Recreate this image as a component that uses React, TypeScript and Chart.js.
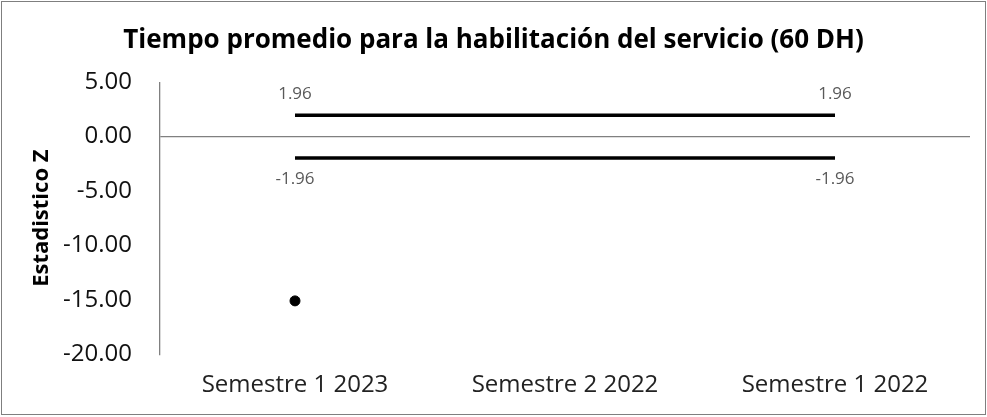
import React, { useEffect, useRef } from "react";
import { Chart, registerables } from "chart.js";

Chart.register(...registerables);

const categories = ["Semestre 1 2023", "Semestre 2 2022", "Semestre 1 2022"];
const zValues = [-15.1, null, null];
const upperLimit = [1.96, 1.96, 1.96];
const lowerLimit = [-1.96, -1.96, -1.96];
const yTicks = { min: -20, max: 5, step: 5 };
const titleText = "Tiempo promedio para la habilitación del servicio (60 DH)";
const yTitle = "Estadistico Z";

const FONT = "'Open Sans', 'Noto Sans', sans-serif";

const endLabels = {
  id: "endLabels",
  afterDatasetsDraw(chart: any) {
    const ctx = chart.ctx;
    ctx.save();
    ctx.font = `17px ${FONT}`;
    ctx.fillStyle = "#595959";
    ctx.textAlign = "center";
    ctx.textBaseline = "middle";
    [1, 2].forEach((di) => {
      const meta = chart.getDatasetMeta(di);
      const data = chart.data.datasets[di].data as number[];
      [0, data.length - 1].forEach((i) => {
        const el = meta.data[i];
        const above = data[i] > 0;
        ctx.fillText(data[i].toFixed(2), el.x, above ? el.y - 21 : el.y + 21);
      });
    });
    ctx.restore();
  },
};

const yAxisTitle = {
  id: "yAxisTitle",
  afterDraw(chart: any) {
    const ctx = chart.ctx;
    const area = chart.chartArea;
    ctx.save();
    ctx.translate(42, (area.top + area.bottom) / 2);
    ctx.rotate(-Math.PI / 2);
    ctx.font = `bold 22px ${FONT}`;
    ctx.fillStyle = "#000";
    ctx.textAlign = "center";
    ctx.textBaseline = "middle";
    ctx.fillText(yTitle, 0, 0);
    ctx.restore();
  },
};

export default function App() {
  const ref = useRef<HTMLCanvasElement>(null);
  useEffect(() => {
    const chart = new Chart(ref.current!, {
      type: "line",
      data: {
        labels: categories,
        datasets: [
          {
            data: zValues,
            showLine: false,
            pointRadius: 5,
            pointBackgroundColor: "#000",
            pointBorderColor: "#000",
            borderColor: "#000",
          },
          {
            data: upperLimit,
            borderColor: "#000",
            borderWidth: 3.5,
            pointRadius: 0,
          },
          {
            data: lowerLimit,
            borderColor: "#000",
            borderWidth: 3.5,
            pointRadius: 0,
          },
        ],
      },
      options: {
        animation: false,
        responsive: false,
        layout: { padding: { left: 17, right: 17, top: 17, bottom: 0 } },
        plugins: {
          legend: { display: false },
          tooltip: { enabled: false },
          title: {
            display: true,
            text: titleText,
            color: "#000",
            font: { family: FONT, size: 26, weight: "bold" },
            padding: { top: 8, bottom: 26 },
          },
        },
        scales: {
          x: {
            offset: true,
            grid: { display: false, drawTicks: false },
            border: { display: false },
            ticks: {
              color: "#222",
              font: { family: FONT, size: 24 },
              padding: 17,
            },
          },
          y: {
            min: yTicks.min,
            max: yTicks.max,
            afterFit: (s: any) => {
              s.width = 143;
            },
            ticks: {
              stepSize: yTicks.step,
              color: "#111",
              font: { family: FONT, size: 24 },
              padding: 28,
              callback: (v: any) => Number(v).toFixed(2),
            },
            grid: {
              drawTicks: false,
              color: (c: any) => (c.tick && c.tick.value === 0 ? "#808080" : "rgba(0,0,0,0)"),
              lineWidth: 1.3,
            },
            border: { display: true, color: "#808080", width: 1.3 },
            title: { display: false, text: yTitle },
          },
        },
      },
      plugins: [endLabels, yAxisTitle],
    });
    return () => chart.destroy();
  }, []);
  return (
    <div
      style={{
        position: "fixed",
        left: 0,
        top: 0,
        width: 987,
        height: 417,
        background: "#fff",
      }}
    >
      <div
        style={{
          position: "absolute",
          left: 1,
          top: 1,
          width: 985,
          height: 414,
          border: "1.5px solid #7f7f7f",
          boxSizing: "border-box",
        }}
      />
      <canvas ref={ref} width={987} height={417} style={{ position: "absolute", left: 0, top: 0 }} />
    </div>
  );
}
